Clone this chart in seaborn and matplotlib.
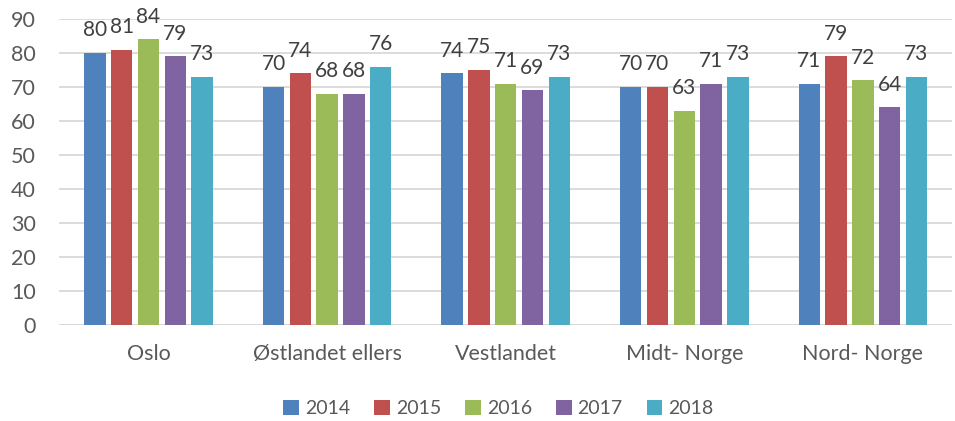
import matplotlib
matplotlib.use("Agg")
import matplotlib.pyplot as plt
import seaborn as sns
import pandas as pd
from matplotlib.patches import Patch

regions = ["Oslo", "Østlandet ellers", "Vestlandet", "Midt- Norge", "Nord- Norge"]
years = ["2014", "2015", "2016", "2017", "2018"]
v2014 = [80, 70, 74, 70, 71]
v2015 = [81, 74, 75, 70, 79]
v2016 = [84, 68, 71, 63, 72]
v2017 = [79, 68, 69, 71, 64]
v2018 = [73, 76, 73, 73, 73]
colors = ["#4F81BD", "#C0504D", "#9BBB59", "#8064A2", "#4BACC6"]

series = [v2014, v2015, v2016, v2017, v2018]
rows = []
for y, vals in zip(years, series):
    for r, v in zip(regions, vals):
        rows.append({"region": r, "year": y, "value": v})
df = pd.DataFrame(rows)

sns.set_theme(style="white")
plt.rcParams["font.family"] = ["Lato", "DejaVu Sans"]
txt = "#595959"

fig = plt.figure(figsize=(9.55, 4.21), dpi=100)
ax = fig.add_axes([0.062, 0.228, 0.935, 0.727])

sns.barplot(data=df, x="region", y="value", hue="year", hue_order=years,
            order=regions, palette=colors, width=0.75, ax=ax,
            linewidth=0, saturation=1, legend=False)

# narrow each bar around its centre to leave white gaps like the original
for p in ax.patches:
    w = p.get_width()
    cx = p.get_x() + w / 2
    nw = w * 0.8
    p.set_x(cx - nw / 2)
    p.set_width(nw)

for cont in ax.containers:
    ax.bar_label(cont, padding=9, fontsize=15, color="#404040")

ax.set_ylim(0, 90)
ax.set_yticks(range(0, 91, 10))
ax.yaxis.grid(True, color="#D9D9D9", linewidth=1.3)
ax.set_axisbelow(True)
for s in ["top", "right", "left", "bottom"]:
    ax.spines[s].set_visible(False)
ax.axhline(0, color="#D9D9D9", linewidth=1.3, zorder=0)
ax.set_xlabel("")
ax.set_ylabel("")
ax.tick_params(axis="both", length=0, labelsize=15.5, labelcolor=txt)
ax.tick_params(axis="x", pad=14)
ax.tick_params(axis="y", pad=17)
ax.set_xlim(-0.5, 4.5)

handles = [Patch(facecolor=c, edgecolor="none") for c in colors]
fig.legend(handles, years, loc="center", bbox_to_anchor=(0.522, 0.03),
           ncol=5, frameon=False, fontsize=14, labelcolor=txt,
           handlelength=0.8, handleheight=0.8, handletextpad=0.3,
           columnspacing=1.25)

fig.savefig("out.png", dpi=100)
